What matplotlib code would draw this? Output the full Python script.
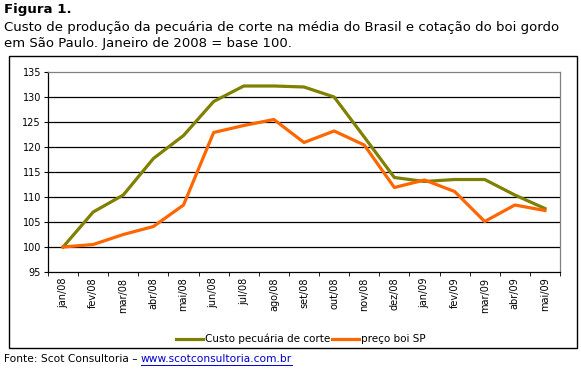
import matplotlib.pyplot as plt
import matplotlib.patches as mpatches
import numpy as np

months = ['jan/08', 'fev/08', 'mar/08', 'abr/08', 'mai/08', 'jun/08', 'jul/08',
          'ago/08', 'set/08', 'out/08', 'nov/08', 'dez/08', 'jan/09', 'fev/09',
          'mar/09', 'abr/09', 'mai/09']
custo = [100.0, 107.0, 110.4, 117.7, 122.3, 129.1, 132.2, 132.2, 132.0, 130.0,
         122.0, 113.9, 113.1, 113.5, 113.5, 110.4, 107.7]
preco = [100.0, 100.5, 102.5, 104.1, 108.4, 122.9, 124.3, 125.5, 120.9, 123.2,
         120.4, 111.9, 113.4, 111.1, 105.1, 108.4, 107.3]
yticks = [95, 100, 105, 110, 115, 120, 125, 130, 135]

W, H = 581, 371
fig = plt.figure(figsize=(W / 100, H / 100), dpi=100)

def fx(px):
    return px / W

def fy(py):
    return 1 - py / H

# header text
fig.text(fx(4), fy(10), 'Figura 1.', fontsize=9.6, fontweight='bold',
         ha='left', va='center', family='DejaVu Sans')
fig.text(fx(4), fy(27), 'Custo de produção da pecuária de corte na média do Brasil e cotação do boi gordo',
         fontsize=9.5, ha='left', va='center', family='DejaVu Sans')
fig.text(fx(4), fy(44), 'em São Paulo. Janeiro de 2008 = base 100.',
         fontsize=9.5, ha='left', va='center', family='DejaVu Sans')

# outer frame
fig.patches.append(mpatches.Rectangle((fx(9), fy(348)), fx(577) - fx(9), fy(56) - fy(348),
                                      transform=fig.transFigure, fill=False,
                                      edgecolor='black', linewidth=1))

# plot area
left, right, top, bottom = 48, 560, 72, 272
ax = fig.add_axes([fx(left), fy(bottom), fx(right) - fx(left), fy(top) - fy(bottom)])
x = np.arange(len(months))
ax.plot(x, custo, color='#808000', linewidth=2.3, label='Custo pecuária de corte')
ax.plot(x, preco, color='#FF6600', linewidth=2.3, label='preço boi SP')

ax.set_xlim(-0.5, len(months) - 0.5)
ax.set_ylim(95, 135)
ax.set_yticks(yticks)
ax.set_yticklabels([str(v) for v in yticks], fontsize=7, family='DejaVu Sans')
for v in yticks[1:-1]:
    ax.axhline(v, color='black', linewidth=0.9, zorder=0)

ax.set_xticks(x)
ax.set_xticklabels(months, rotation=90, fontsize=7, family='DejaVu Sans')
ax.tick_params(axis='x', length=0, pad=4)
ax.set_xticks(np.arange(-0.5, len(months) + 0.5, 1), minor=True)
ax.tick_params(axis='x', which='minor', length=3, direction='out', color='black')
ax.tick_params(axis='y', length=3, direction='out', pad=2)

ax.spines['top'].set_color('#808080')
ax.spines['right'].set_color('#808080')
ax.spines['left'].set_color('black')
ax.spines['bottom'].set_color('black')
for s in ax.spines.values():
    s.set_linewidth(0.9)

fig.legend(loc='center', bbox_to_anchor=(fx(301), fy(339)), ncol=2, frameon=False,
           handlelength=2.6, handletextpad=0.15, columnspacing=0.2,
           prop={'family': 'DejaVu Sans', 'size': 7.5})

# footer
t1 = fig.text(fx(4), fy(359), 'Fonte: Scot Consultoria \u2013 ', fontsize=7.7,
              ha='left', va='center', family='DejaVu Sans')
fig.canvas.draw()
bb = t1.get_window_extent()
t2 = fig.text(bb.x1 / W, fy(359), 'www.scotconsultoria.com.br',
              fontsize=7.7, ha='left', va='center', color='#0000CC', family='DejaVu Sans')
fig.canvas.draw()
bb2 = t2.get_window_extent()
fig.lines.append(plt.Line2D([bb2.x0 / W, bb2.x1 / W], [fy(365), fy(365)],
                            transform=fig.transFigure, color='#0000CC', linewidth=0.7))

fig.savefig('out.png', dpi=100)
